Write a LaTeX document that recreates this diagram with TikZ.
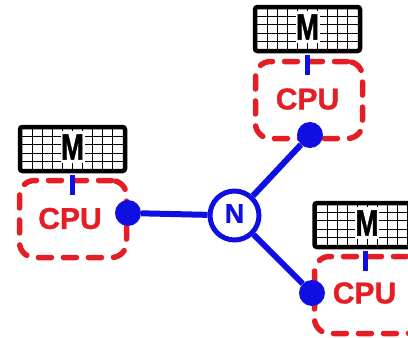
\documentclass[tikz,border=0pt]{standalone}
\usepackage{fontspec}
\newfontfamily\lsans{Liberation Sans}[BoldFeatures={FakeBold=1.2}]
\usetikzlibrary{calc}
\definecolor{cpured}{RGB}{228,30,36}
\definecolor{netblue}{RGB}{15,15,225}
\tikzset{
  membox/.style={draw=black, line width=4.5pt, rounded corners=2.5pt,
    minimum width=105pt, minimum height=44pt, inner sep=0pt, fill=white,
    path picture={
      \foreach \i in {-4,...,4}
        \draw[black, line width=0.9pt]
          ([xshift=\i*10pt]path picture bounding box.south) --
          ([xshift=\i*10pt]path picture bounding box.north);
      \foreach \j in {-12.5,-4.2,4.2,12.5}
        \draw[black, line width=0.9pt]
          ([yshift=\j pt]path picture bounding box.west) --
          ([yshift=\j pt]path picture bounding box.east);
    }},
  mlabel/.style={fill=white, inner sep=0pt, minimum width=24pt, minimum height=32pt,
    font=\lsans\bfseries\fontsize{27.5}{27.5}\selectfont},
  cpubox/.style={draw=cpured, line width=5.5pt, line cap=round,
    dash pattern=on 13pt off 12pt,
    rounded corners=15pt, minimum width=107pt, minimum height=77pt, inner sep=0pt},
  cputext/.style={text=cpured, inner sep=0pt,
    font=\lsans\bfseries\fontsize{30}{30}\selectfont},
  dotnode/.style={circle, fill=netblue, minimum size=26pt, inner sep=0pt},
  netnode/.style={circle, draw=netblue, line width=5pt, fill=white,
    minimum size=49pt, inner sep=0pt, text=netblue,
    font=\lsans\bfseries\fontsize{27}{27}\selectfont},
  link/.style={netblue, line width=6pt},
  memlink/.style={netblue, line width=5pt}
}
\begin{document}
\begin{tikzpicture}[x=1pt, y=-1pt]
\useasboundingbox (0,0) rectangle (408,338);
\clip (0,0) rectangle (408,338);
% CPU boxes
\node[cpubox] (c1) at (73,219) {};
\node[cpubox] (c2) at (309,100) {};
\node[cpubox] (c3) at (368,295) {};
% memory boxes
\node[membox] (m1) at (72.5,149) {};
\node[membox] (m2) at (307.5,29) {};
\node[membox] (m3) at (367,225) {};
\node[mlabel] (l1) at ([yshift=2pt]m1) {\scalebox{1}[1.33]{M}};
\node[mlabel] (l2) at ([yshift=2pt]m2) {\scalebox{1}[1.33]{M}};
\node[mlabel] (l3) at ([yshift=2pt]m3) {\scalebox{1}[1.33]{M}};
% memory to cpu links
\coordinate (e1) at ([yshift=-22pt]m1.south);
\coordinate (e2) at ([yshift=-22pt]m2.south);
\coordinate (e3) at ([xshift=-2pt,yshift=-22pt]m3.south);
\draw[memlink] ([yshift=-2pt]m1.south) -- (e1);
\draw[memlink] ([yshift=-2pt]m2.south) -- (e2);
\draw[memlink] ([xshift=-2pt,yshift=-2pt]m3.south) -- (e3);
% CPU labels
\node[cputext] (t1) at (70,218.5) {CPU};
\node[cputext] (t2) at (307.5,99) {CPU};
\node[cputext] (t3) at (364.5,293) {CPU};
% network
\node[dotnode] (d1) at (128,213) {};
\node[dotnode] (d2) at (310,135) {};
\node[dotnode] (d3) at (312,293) {};
\node[netnode] (n) at (234.5,215.5) {\raisebox{4pt}{N}};
\draw[link] (d1) -- (n);
\draw[link] (n) -- (d2);
\draw[link] (n) -- (d3);
\end{tikzpicture}
\end{document}
